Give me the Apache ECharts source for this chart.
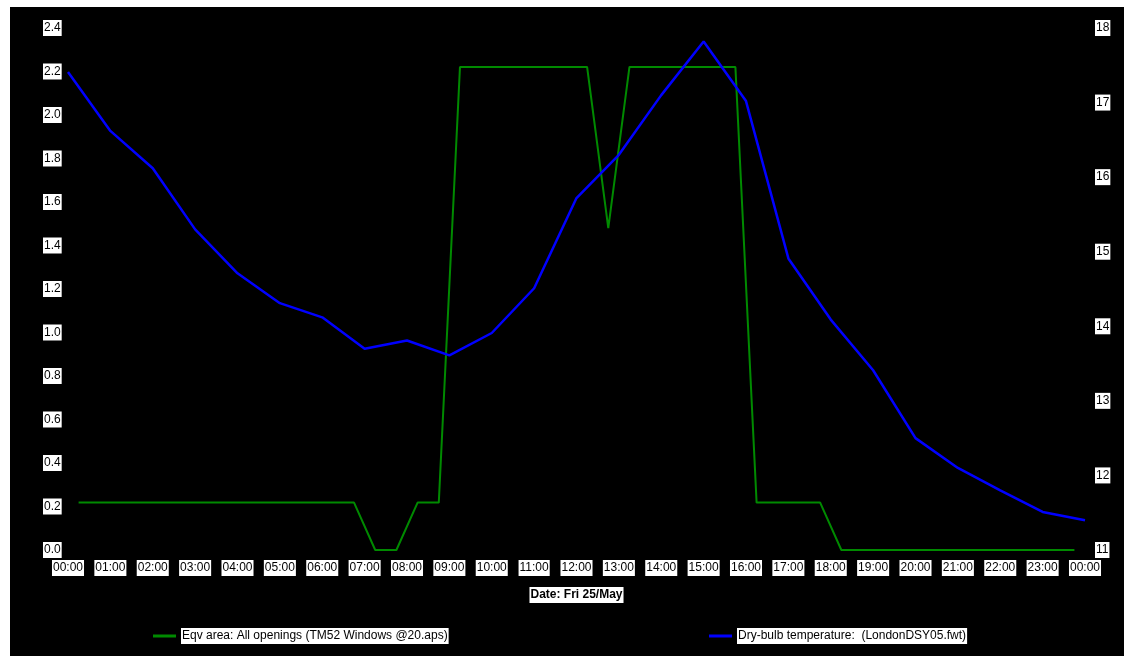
<!DOCTYPE html>
<html>
<head>
<meta charset="utf-8">
<script src="https://cdn.jsdelivr.net/npm/echarts@6/dist/echarts.min.js"></script>
<style>
  html, body { margin: 0; padding: 0; background: #ffffff; width: 1124px; height: 656px; overflow: hidden; }
  #chart { position: absolute; left: 10px; top: 7px; width: 1114px; height: 649px; background: #000000; }
</style>
</head>
<body>
<div id="chart"></div>
<script>
// X tick labels (hours 0..24)
const xTickLabels = ["00:00","01:00","02:00","03:00","04:00","05:00","06:00","07:00","08:00","09:00","10:00","11:00","12:00",
  "13:00","14:00","15:00","16:00","17:00","18:00","19:00","20:00","21:00","22:00","23:00","00:00"];

// Dry-bulb temperature, hourly (00:00 .. 24:00)
const tempHours = [0,1,2,3,4,5,6,7,8,9,10,11,12,13,14,15,16,17,18,19,20,21,22,23,24];
const tempValues = [17.41,16.62,16.12,15.30,14.71,14.31,14.12,13.70,13.81,13.61,13.91,14.51,15.72,
  16.30,17.10,17.82,17.02,14.91,14.09,13.41,12.50,12.10,11.80,11.51,11.40];

// Equivalent opening area, half-hourly averages (plotted at 00:15, 00:45, ...)
const areaTimes = ["00:15","00:45","01:15","01:45","02:15","02:45","03:15","03:45","04:15","04:45","05:15","05:45",
  "06:15","06:45","07:15","07:45","08:15","08:45","09:15","09:45","10:15","10:45","11:15","11:45",
  "12:15","12:45","13:15","13:45","14:15","14:45","15:15","15:45","16:15","16:45","17:15","17:45",
  "18:15","18:45","19:15","19:45","20:15","20:45","21:15","21:45","22:15","22:45","23:15","23:45"];
const areaValues = [0.218,0.218,0.218,0.218,0.218,0.218,0.218,0.218,0.218,0.218,0.218,0.218,
  0.218,0.218,0,0,0.218,0.218,2.221,2.221,2.221,2.221,2.221,2.221,
  2.221,1.48,2.221,2.221,2.221,2.221,2.221,2.221,0.218,0.218,0.218,0.218,
  0,0,0,0,0,0,0,0,0,0,0,0];

const seriesNames = ["Eqv area: All openings (TM52 Windows @20.aps)", "Dry-bulb temperature:  (LondonDSY05.fwt)"];
const xAxisTitle = "Date: Fri 25/May";

function toHours(s) { const p = s.split(":"); return Number(p[0]) + Number(p[1]) / 60; }

const font = "Liberation Sans, Arial, sans-serif";
const labelBox = { color: "#000", fontFamily: font, fontSize: 12, backgroundColor: "#fff", padding: [2, 1, 2, 1] };

const chart = echarts.init(document.getElementById("chart"), null, { renderer: "canvas" });
chart.setOption({
  backgroundColor: "#000000",
  animation: false,
  grid: { left: 58, right: 39, top: 21, bottom: 106, containLabel: false },
  legend: [
    { data: [seriesNames[0]], left: 138, top: 616, icon: "rect", itemWidth: 23, itemHeight: 3,
      textStyle: Object.assign({}, labelBox) },
    { data: [seriesNames[1]], left: 694, top: 616, icon: "rect", itemWidth: 23, itemHeight: 3,
      textStyle: Object.assign({}, labelBox) }
  ],
  xAxis: {
    type: "value", min: 0, max: 24, interval: 1,
    name: xAxisTitle, nameLocation: "middle", nameGap: 37,
    nameTextStyle: Object.assign({}, labelBox, { fontWeight: "bold" }),
    axisLine: { show: false }, axisTick: { show: false }, splitLine: { show: false },
    axisLabel: Object.assign({}, labelBox, { margin: 10, showMinLabel: true, showMaxLabel: true,
      formatter: v => xTickLabels[Math.round(v)] })
  },
  yAxis: [
    { type: "value", min: 0, max: 2.4, interval: 0.2, position: "left",
      axisLine: { show: false }, axisTick: { show: false }, splitLine: { show: false },
      axisLabel: Object.assign({}, labelBox, { align: "left", margin: 25, formatter: v => v.toFixed(1) }) },
    { type: "value", min: 11, max: 18, interval: 1, position: "right",
      axisLine: { show: false }, axisTick: { show: false }, splitLine: { show: false },
      axisLabel: Object.assign({}, labelBox, { align: "left", margin: 10 }) }
  ],
  series: [
    { name: seriesNames[0], type: "line", yAxisIndex: 0, showSymbol: false, symbol: "none",
      color: "#008a00", lineStyle: { width: 2, color: "#008a00" },
      data: areaTimes.map((t, i) => [toHours(t), areaValues[i]]) },
    { name: seriesNames[1], type: "line", yAxisIndex: 1, showSymbol: false, symbol: "none",
      color: "#0000ff", lineStyle: { width: 2.5, color: "#0000ff" },
      data: tempHours.map((h, i) => [h, tempValues[i]]) }
  ]
});
</script>
</body>
</html>
